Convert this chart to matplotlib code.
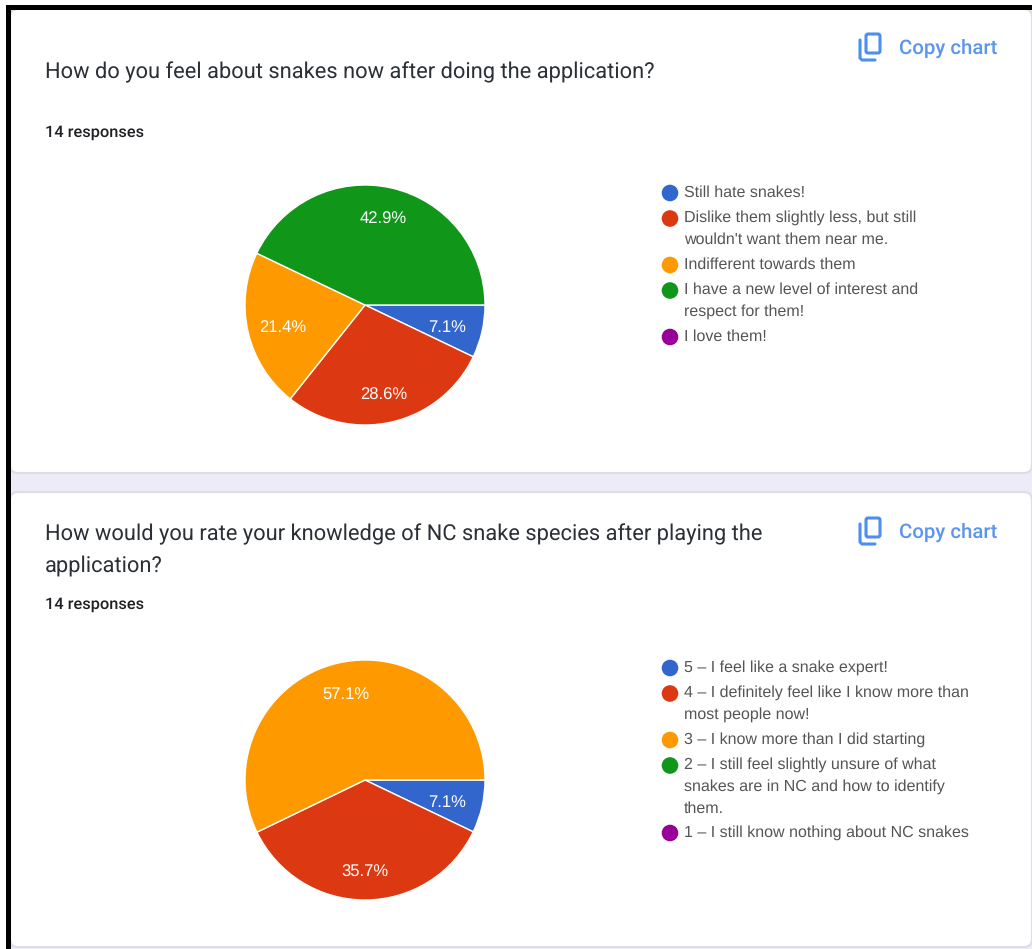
import numpy as np
import matplotlib
matplotlib.use('Agg')
import matplotlib.pyplot as plt
from matplotlib.patches import FancyBboxPatch, Circle, Rectangle

plt.rcParams['font.family'] = ['Roboto', 'DejaVu Sans']
plt.rcParams['text.hinting'] = 'no_hinting'

W, H = 1032, 949

# survey results, in percent
feel_values = [7.1, 28.6, 21.4, 42.9]
rate_values = [7.1, 35.7, 57.1]
colors = ['#3366CC', '#DC3912', '#FF9900', '#109618', '#990099']

feel_title = 'How do you feel about snakes now after doing the application?'
rate_title = ['How would you rate your knowledge of NC snake species after playing the', 'application?']
responses = '14 responses'

feel_legend = [
    ['Still hate snakes!'],
    ['Dislike them slightly less, but still', "wouldn't want them near me."],
    ['Indifferent towards them'],
    ['I have a new level of interest and', 'respect for them!'],
    ['I love them!'],
]
rate_legend = [
    ['5 – I feel like a snake expert!'],
    ['4 – I definitely feel like I know more than', 'most people now!'],
    ['3 – I know more than I did starting'],
    ['2 – I still feel slightly unsure of what', 'snakes are in NC and how to identify', 'them.'],
    ['1 – I still know nothing about NC snakes'],
]

fig = plt.figure(figsize=(W / 100, H / 100), dpi=100, facecolor='white')

# page layer in pixel coordinates, y going down
bg = fig.add_axes([0, 0, 1, 1])
bg.set_xlim(0, W)
bg.set_ylim(H, 0)
bg.axis('off')

bg.add_patch(Rectangle((8, 7), W - 8, H - 7, color='#EEEBF8', lw=0))


def card(top, bottom):
    # grey edge comes from the patch outline
    bg.add_patch(FancyBboxPatch((18, top + 8), W - 26, bottom - top - 15,
                                boxstyle='round,pad=8,rounding_size=8',
                                fc='white', ec='#DEDDE4', lw=1.5))


def copy_icon(x, y):
    blue = '#4D8FF0'
    bg.add_patch(FancyBboxPatch((x + 6, y), 14, 19, boxstyle='round,pad=0,rounding_size=2',
                                fc='none', ec=blue, lw=2.2))
    bg.plot([x, x, x + 2, x + 15], [y + 6, y + 24, y + 26, y + 26], color=blue, lw=2.2,
            solid_capstyle='round', solid_joinstyle='round')
    bg.text(x + 39, y + 14, 'Copy chart', color='#5B95EE', fontsize=14.7, va='center', weight='medium')


def legend(items, y0):
    y = y0
    for lines, c in zip(items, colors):
        bg.add_patch(Circle((670, y), 8.3, color=c, lw=0))
        for i, line in enumerate(lines):
            bg.text(684, y + i * 22 - 0.5, line, color='#555555', fontsize=11.55,
                    family='Liberation Sans', va='center')
        y += 25.5 + (len(lines) - 1) * 21


def pie(values, cx, cy):
    size = 300
    ax = fig.add_axes([(cx - size / 2) / W, 1 - (cy + size / 2) / H, size / W, size / H])
    wedges, _ = ax.pie(values, colors=colors, startangle=0, counterclock=False, radius=1,
                       normalize=True, wedgeprops={'edgecolor': 'white', 'linewidth': 1})
    ax.set_xlim(-1.25, 1.25)
    ax.set_ylim(-1.25, 1.25)
    # percentage sits part way out along the middle of each slice
    for v, w in zip(values, wedges):
        mid = np.radians((w.theta1 + w.theta2) / 2)
        ax.text(0.7 * np.cos(mid), 0.75 * np.sin(mid) - 0.02, f'{v}%', color='white', fontsize=12,
                family='Liberation Sans', ha='center', va='center')


card(9, 472)
card(492, 946)

# outer black frame
bg.add_patch(Rectangle((6, 5), W - 6, 4.5, color='black', lw=0, zorder=6))
bg.add_patch(Rectangle((6, 5), 4.5, H - 5, color='black', lw=0, zorder=6))

bg.text(45, 72, feel_title, color='#2B2F36', fontsize=15.72, va='center')
bg.text(45, 132, responses, color='#202124', fontsize=11.8, va='center', weight='medium')
copy_icon(860, 34)
legend(feel_legend, 193)

bg.text(45, 534, rate_title[0], color='#2B2F36', fontsize=15.72, va='center')
bg.text(45, 566, rate_title[1], color='#2B2F36', fontsize=15.72, va='center')
bg.text(45, 604, responses, color='#202124', fontsize=11.8, va='center', weight='medium')
copy_icon(860, 518)
legend(rate_legend, 668)

pie(feel_values, 365, 305)
pie(rate_values, 365, 780)

fig.savefig('out.png', dpi=100)
